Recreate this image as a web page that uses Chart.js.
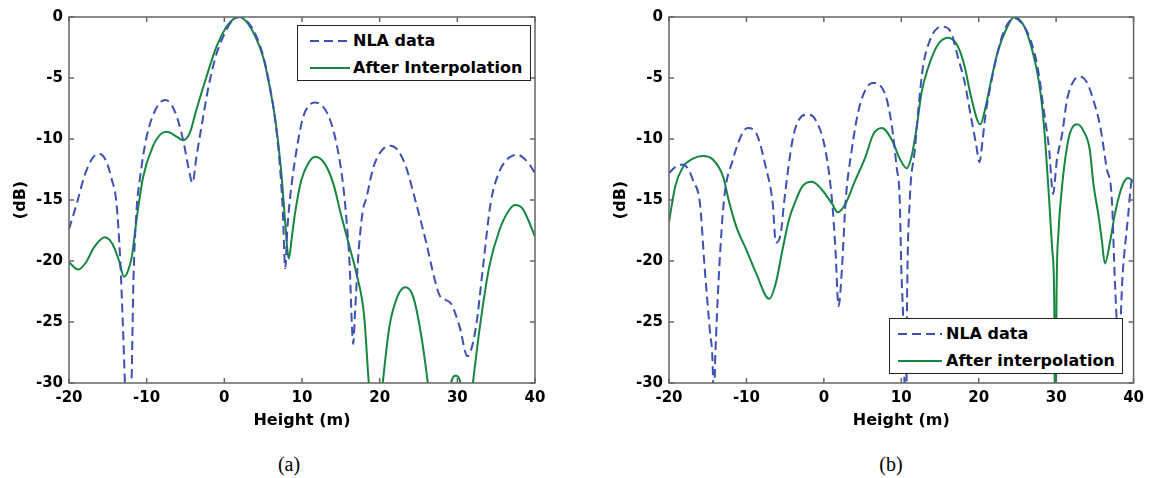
<!DOCTYPE html>
<html>
<head>
<meta charset="utf-8">
<script src="https://cdn.jsdelivr.net/npm/chart.js@4"></script>
<style>
  body { margin: 0; width: 1150px; height: 478px; background: #fff; position: relative; overflow: hidden; }
  canvas { position: absolute; top: 0; }
  #chartA { left: 0; }
  #chartB { left: 600px; }
  .legend { position: absolute; box-sizing: border-box; background: #fff; border: 1px solid #222;
            padding-top: 1px; font: bold 16px 'DejaVu Sans'; color: #000; }
  .legend .row { height: 27px; display: flex; align-items: center; white-space: nowrap; }
  .legend svg { display: block; }
  .caption { position: absolute; top: 452px; width: 100px; text-align: center;
             font: 20px 'Liberation Serif'; line-height: 24px; color: #000; }
</style>
</head>
<body>
<canvas id="chartA" width="575" height="440"></canvas>
<canvas id="chartB" width="550" height="440"></canvas>
<div class="caption" style="left:239px">(a)</div>
<div class="caption" style="left:841px">(b)</div>
<script>
// axis ranges
const xRange = [-20, 40];
const yRange = [-30, 0];
const xStep = 10;
const yStep = 5;

// (a) NLA data
const heightNlaA = [-20, -19, -18, -17, -16.2, -15.3, -14.5, -13.9, -13.4, -12.8, -12.4, -11.95, -11.7, -11.3, -10.9, -10, -8.7, -7.6, -6.8, -6, -5.2, -4.6, -4.1, -3.6, -3, -2, -1, 0, 1, 2, 3, 4, 5, 5.8, 6.5, 7.1, 7.5, 7.85, 8.1, 8.4, 9.3, 10.15, 11, 11.65, 12.7, 13.6, 14.45, 15.1, 15.5, 16.1, 16.6, 16.8, 17.2, 17.8, 18.3, 19.2, 20.2, 21.35, 22.3, 23.4, 24.7, 26, 27, 27.7, 28.5, 29.2, 30.3, 31.3, 32.4, 33.3, 34.3, 35.2, 36.2, 37, 37.8, 38.6, 39.3, 40];
const dbNlaA = [-17.4, -15.3, -13.0, -11.6, -11.2, -11.7, -13.3, -15.2, -20, -30, -38, -30, -21.6, -15.8, -13.4, -9.8, -7.4, -6.8, -7.2, -8.4, -10.4, -12.4, -13.6, -11.5, -9.2, -5.6, -3.0, -1.4, -0.3, 0, -0.4, -1.4, -3.2, -5.5, -8.2, -11.8, -15.5, -20.6, -17.5, -15.2, -10.9, -8.2, -7.2, -7.0, -7.35, -8.4, -10.4, -12.8, -15, -19.9, -26.8, -24.6, -20, -16, -14.8, -12.3, -11.0, -10.55, -10.9, -12.3, -15.3, -18.5, -21.3, -22.8, -23.2, -23.5, -25.4, -27.8, -25.4, -20.5, -15.2, -13, -11.8, -11.4, -11.3, -11.6, -12.1, -12.8];

// (a) after interpolation
const heightInterpA = [-20, -18.8, -17.8, -16.8, -15.4, -14.4, -13.6, -12.9, -12.4, -11.9, -11.3, -10.45, -9.2, -8.2, -7.4, -6.15, -5.3, -4.45, -3.6, -2.3, -1, 0.27, 1.2, 2, 3, 4, 5, 5.8, 6.6, 7.3, 7.8, 8.3, 8.7, 9.1, 9.9, 10.8, 11.7, 12.9, 14, 15.1, 16.1, 17, 18, 18.6, 19.5, 20.4, 21.25, 22.3, 23.3, 24.3, 25.3, 26.2, 27.6, 29.2, 29.8, 30.4, 31.2, 32, 32.9, 34.1, 35.4, 36.7, 37.45, 38.4, 39.5, 40];
const dbInterpA = [-20.1, -20.7, -20.1, -18.9, -18.05, -18.6, -19.9, -21.3, -20.8, -19.6, -16.6, -13.1, -10.6, -9.6, -9.4, -9.8, -10.1, -9.5, -7.6, -4.9, -2.4, -0.8, -0.15, 0, -0.5, -1.6, -3.3, -5.6, -8.6, -12.5, -16.5, -19.8, -18, -16.1, -13.4, -12.0, -11.45, -12.0, -13.6, -16.4, -18.8, -21.0, -24.5, -30, -36, -30, -25.4, -22.9, -22.15, -22.9, -25.9, -30, -38, -30, -29.4, -30, -34, -30, -25.4, -20.5, -17.5, -15.8, -15.4, -15.7, -17.2, -18.0];

// (b) NLA data
const heightNlaB = [-20, -19.2, -18.2, -17.4, -16.9, -16, -15.4, -14.7, -14.3, -14.2, -14.1, -13.9, -13.5, -12.9, -11.75, -10.5, -9.8, -8.75, -7.5, -6.6, -6.2, -5.55, -5.1, -4.05, -3.2, -2.1, -1.1, 0.2, 1.05, 1.5, 1.9, 2.35, 2.8, 3.6, 4.5, 5.35, 6.3, 7.9, 8.8, 9.4, 9.8, 10.0, 10.3, 10.6, 10.75, 11.1, 11.75, 12.2, 12.8, 13.7, 14.7, 15.4, 16.45, 17.3, 18.2, 19, 19.65, 20.1, 20.5, 20.9, 21.6, 22.4, 23.3, 24.6, 25.9, 26.7, 27.6, 28.4, 29.1, 29.6, 30.1, 30.8, 31.4, 32.3, 33.1, 34, 34.8, 35.7, 36.5, 37.2, 37.6, 38.1, 38.6, 39.3, 39.7, 40];
const dbNlaB = [-12.8, -12.3, -12.1, -12.6, -13.4, -15.3, -20.5, -25.9, -30, -36, -30, -25.9, -20.5, -15, -11.7, -9.5, -9.1, -9.5, -12.3, -15.3, -18.5, -17.7, -15, -10.1, -8.4, -8.0, -8.4, -10.9, -15, -19.1, -23.7, -20.5, -15.2, -10.9, -7.6, -6.0, -5.4, -6.3, -9.0, -12.3, -15, -20.5, -25.9, -36, -23, -15, -10.9, -7.6, -4.1, -1.9, -0.9, -0.8, -1.3, -3.25, -5.4, -8.2, -10.4, -11.9, -10.1, -7.9, -5.4, -3.0, -1.1, -0.1, -0.8, -1.9, -4.1, -7.6, -10.9, -14.5, -11.7, -9.5, -6.8, -5.2, -4.9, -5.4, -6.8, -9.0, -12.3, -15, -21.8, -27, -21, -16.3, -13.6, -13.2];

// (b) after interpolation
const heightInterpB = [-20, -19.2, -18.2, -16.9, -15.6, -14.3, -13, -12.3, -11.3, -10, -8.75, -7.05, -6.2, -5.35, -4.5, -3.6, -2.8, -1.5, -0.2, 1.05, 1.8, 2.8, 4.05, 5.35, 6.4, 7.5, 8.8, 9.8, 10.7, 11.3, 12, 12.6, 13.5, 14.7, 16, 17.3, 18.2, 19, 20.2, 20.9, 21.6, 22.4, 23.7, 24.6, 25.9, 26.9, 27.8, 28.4, 29.1, 29.5, 29.75, 29.9, 30.05, 30.3, 30.6, 31.2, 31.8, 32.7, 33.5, 34.35, 34.8, 35.5, 35.9, 36.3, 37, 37.6, 38.2, 38.7, 39.3, 40];
const dbInterpB = [-16.8, -13.9, -12.3, -11.6, -11.4, -11.7, -13.1, -15, -17.2, -19.1, -21.0, -23.1, -21.8, -19.1, -16.6, -15, -13.9, -13.5, -14.2, -15.3, -16.0, -15.3, -13.4, -11.5, -9.6, -9.1, -10.1, -11.6, -12.4, -11.5, -9.0, -6.25, -4.1, -2.3, -1.7, -2.4, -4.1, -6.5, -8.8, -7.35, -5.2, -3.0, -0.8, 0, -0.8, -2.7, -5.4, -8.7, -15, -19.1, -23, -40, -23, -17.7, -15, -11.5, -9.5, -8.8, -9.3, -10.9, -13.6, -16.4, -18.3, -20.2, -18.3, -16.1, -14.5, -13.6, -13.2, -13.5];

const labelsA = ['NLA data', 'After Interpolation'];
const labelsB = ['NLA data', 'After interpolation'];

const blue = '#3d51b4';
const green = '#16873f';
const dash = [9, 5];

const toPoints = (xs, ys) => xs.map((x, i) => ({ x: x, y: ys[i] }));

// box and inward ticks like the original figure
const framePlugin = {
  id: 'frame',
  afterDatasetsDraw(chart) {
    const { ctx, chartArea: a, scales: { x, y } } = chart;
    ctx.save();
    ctx.strokeStyle = '#666';
    ctx.lineWidth = 1.5;
    ctx.strokeRect(a.left, a.top, a.right - a.left, a.bottom - a.top);
    ctx.beginPath();
    x.ticks.forEach(t => {
      const px = x.getPixelForValue(t.value);
      ctx.moveTo(px, a.bottom); ctx.lineTo(px, a.bottom - 5);
      ctx.moveTo(px, a.top); ctx.lineTo(px, a.top + 5);
    });
    y.ticks.forEach(t => {
      const py = y.getPixelForValue(t.value);
      ctx.moveTo(a.left, py); ctx.lineTo(a.left + 5, py);
      ctx.moveTo(a.right, py); ctx.lineTo(a.right - 5, py);
    });
    ctx.stroke();
    ctx.restore();
  }
};

const tickFont = { family: 'DejaVu Sans', size: 15, weight: 'bold' };
const titleFont = { family: 'DejaVu Sans', size: 16, weight: 'bold' };

function makeChart(id, labels, nla, interp, rightPad) {
  const ctx = document.getElementById(id).getContext('2d');
  return new Chart(ctx, {
    type: 'line',
    data: {
      datasets: [
        {
          label: labels[0],
          data: nla,
          borderColor: blue,
          borderWidth: 2,
          borderDash: dash,
          pointRadius: 0,
          cubicInterpolationMode: 'monotone'
        },
        {
          label: labels[1],
          data: interp,
          borderColor: green,
          borderWidth: 2,
          pointRadius: 0,
          cubicInterpolationMode: 'monotone'
        }
      ]
    },
    options: {
      responsive: false,
      animation: false,
      layout: { padding: { top: 17, right: rightPad, left: 0, bottom: 0 } },
      plugins: { legend: { display: false }, tooltip: { enabled: false } },
      scales: {
        x: {
          type: 'linear',
          min: xRange[0],
          max: xRange[1],
          afterFit: s => { s.height = 57; },
          grid: { display: false, drawTicks: false },
          border: { display: false },
          ticks: { stepSize: xStep, padding: 6, color: '#000', font: tickFont, maxRotation: 0, autoSkip: false },
          title: { display: true, text: 'Height (m)', color: '#000', font: titleFont, padding: { top: 0, bottom: 9.5 } }
        },
        y: {
          min: yRange[0],
          max: yRange[1],
          afterFit: s => { s.width = 69; },
          grid: { display: false, drawTicks: false },
          border: { display: false },
          ticks: { stepSize: yStep, padding: 6, color: '#000', font: tickFont },
          title: { display: true, text: '(dB)', color: '#000', font: titleFont, padding: { top: 11, bottom: 0 } }
        }
      }
    },
    plugins: [framePlugin]
  });
}

// html legend built from the dataset styles
function addLegend(chart, box) {
  const div = document.createElement('div');
  div.className = 'legend';
  div.style.left = box.left + 'px';
  div.style.top = box.top + 'px';
  div.style.width = box.width + 'px';
  div.style.height = '56px';
  chart.data.datasets.forEach(ds => {
    const row = document.createElement('div');
    row.className = 'row';
    const d = ds.borderDash ? ds.borderDash.join(',') : 'none';
    row.innerHTML =
      '<svg width="' + box.lineLen + '" height="6" style="margin-left:' + box.lineStart + 'px;margin-right:' + box.gap + 'px">' +
      '<line x1="0" y1="3" x2="' + box.lineLen + '" y2="3" stroke="' + ds.borderColor + '" stroke-width="2.2" stroke-dasharray="' + d + '"/></svg>' +
      '<span>' + ds.label + '</span>';
    div.appendChild(row);
  });
  document.body.appendChild(div);
}

const chartA = makeChart('chartA', labelsA, toPoints(heightNlaA, dbNlaA), toPoints(heightInterpA, dbInterpA), 40);
const chartB = makeChart('chartB', labelsB, toPoints(heightNlaB, dbNlaB), toPoints(heightInterpB, dbInterpB), 13);

addLegend(chartA, { left: 297, top: 25, width: 234, lineStart: 12, lineLen: 40, gap: 3 });
addLegend(chartB, { left: 889, top: 318, width: 234, lineStart: 8, lineLen: 44, gap: 4 });
</script>
</body>
</html>
